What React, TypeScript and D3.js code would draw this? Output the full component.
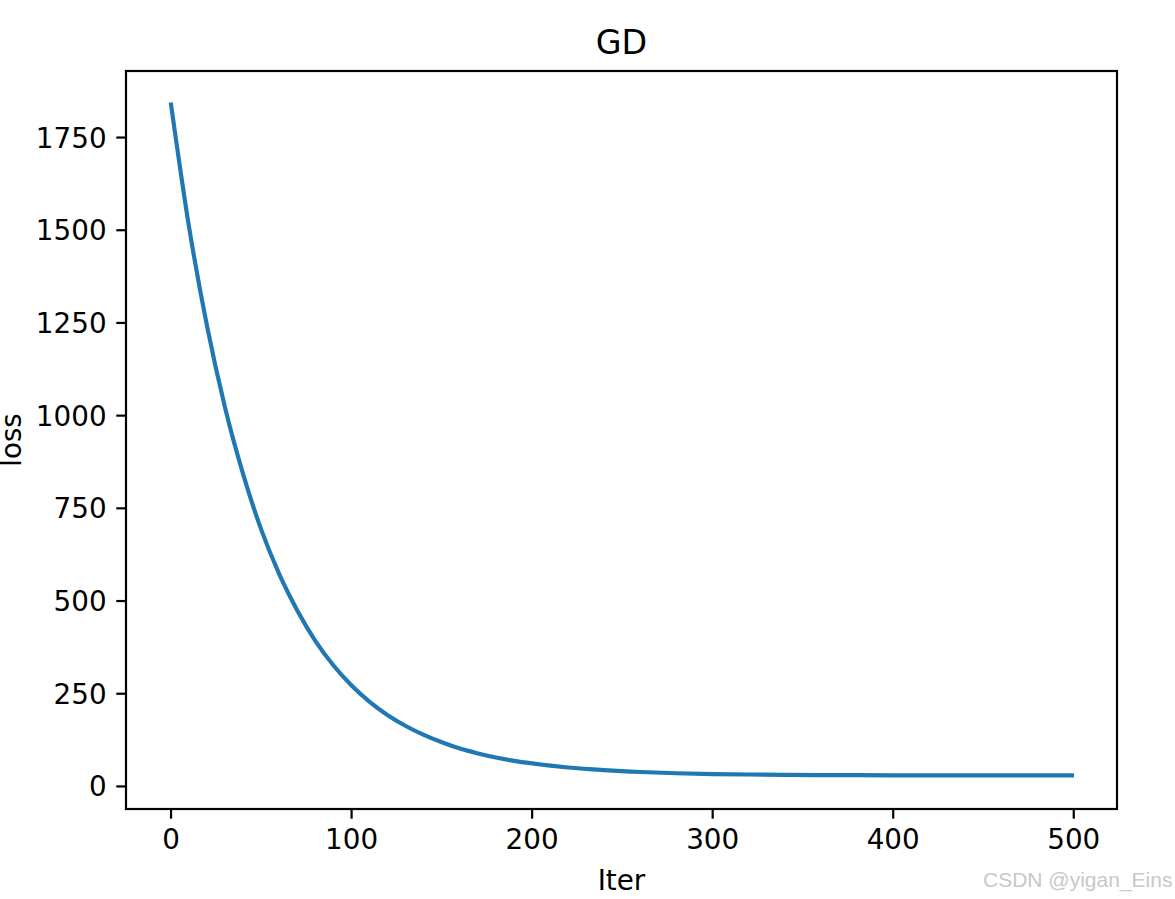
import React from "react";
import * as d3 from "d3";

const iters = [0, 10, 20, 30, 40, 50, 60, 70, 80, 90, 100, 110, 120, 130, 140, 150, 160, 170, 180, 190, 200, 220, 240, 260, 280, 300, 320, 340, 360, 380, 400, 440, 470, 499];
const loss = [1839, 1508, 1240, 1020, 841, 692, 572, 474, 392, 326, 272, 228, 192, 163, 139, 119, 102, 89, 78, 69, 62, 51, 44, 39, 35.6, 33.3, 32.1, 31.3, 30.7, 30.3, 30.0, 29.7, 29.6, 29.6];
const xTicks = [0, 100, 200, 300, 400, 500];
const yTicks = [0, 250, 500, 750, 1000, 1250, 1500, 1750];
const title = "GD";
const xLabel = "Iter";
const yLabel = "loss";
const watermark = "CSDN @yigan_Eins";

const W = 1175;
const H = 899;
const L = 126, R = 1117, T = 71, B = 809;
const FONT = "DejaVu Sans, sans-serif";

export default function App() {
  const xMin = d3.min(iters)!, xMax = d3.max(iters)!;
  const yMin = d3.min(loss)!, yMax = d3.max(loss)!;
  const xPad = (xMax - xMin) * 0.05;
  const yPad = (yMax - yMin) * 0.05;
  const x = d3.scaleLinear().domain([xMin - xPad, xMax + xPad]).range([L, R]);
  const y = d3.scaleLinear().domain([yMin - yPad, yMax + yPad]).range([B, T]);
  const pts: [number, number][] = iters.map((t, i) => [t, loss[i]]);
  const line = d3
    .line<[number, number]>()
    .x((d) => x(d[0]))
    .y((d) => y(d[1]))
    .curve(d3.curveMonotoneX);
  const tickLen = 9.7;
  return (
    <svg
      width={W}
      height={H}
      style={{ position: "absolute", left: 0, top: 0, background: "#fff" }}
      fontFamily={FONT}
    >
      <rect x={0} y={0} width={W} height={H} fill="#fff" />
      <path d={line(pts)!} fill="none" stroke="#1f77b4" strokeWidth={4.17} strokeLinecap="square" />
      <rect x={L} y={T} width={R - L} height={B - T} fill="none" stroke="#000" strokeWidth={2.2} />
      {xTicks.map((t) => (
        <g key={"x" + t}>
          <line x1={x(t)} x2={x(t)} y1={B} y2={B + tickLen} stroke="#000" strokeWidth={2.2} />
          <text x={x(t)} y={B + 19.4 + 21} textAnchor="middle" fontSize={27.8} fill="#000">
            {t}
          </text>
        </g>
      ))}
      {yTicks.map((t) => (
        <g key={"y" + t}>
          <line x1={L - tickLen} x2={L} y1={y(t)} y2={y(t)} stroke="#000" strokeWidth={2.2} />
          <text x={L - 19.4} y={y(t)} dy="0.36em" textAnchor="end" fontSize={27.8} fill="#000">
            {t}
          </text>
        </g>
      ))}
      <text x={(L + R) / 2} y={54} textAnchor="middle" fontSize={33.3} fill="#000">
        {title}
      </text>
      <text x={(L + R) / 2} y={890} textAnchor="middle" fontSize={27.8} fill="#000">
        {xLabel}
      </text>
      <text
        transform={`translate(21, ${(T + B) / 2}) rotate(-90)`}
        textAnchor="middle"
        fontSize={27.8}
        fill="#000"
      >
        {yLabel}
      </text>
      <text x={983} y={887} fontSize={21} fill="#c8c8c8" fontFamily="Liberation Sans, Arial, sans-serif">
        {watermark}
      </text>
    </svg>
  );
}
